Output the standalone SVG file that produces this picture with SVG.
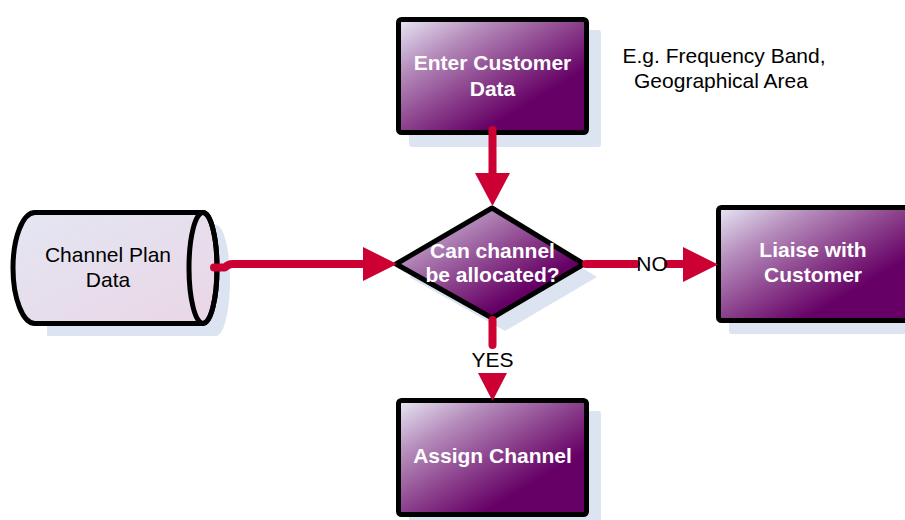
<svg xmlns="http://www.w3.org/2000/svg" width="905" height="520" viewBox="0 0 905 520">
  <defs>
    <linearGradient id="purple" x1="0" y1="0" x2="1" y2="1">
      <stop offset="0" stop-color="#e8e8f6"/>
      <stop offset="0.25" stop-color="#b58cbb"/>
      <stop offset="0.5" stop-color="#8a3f8b"/>
      <stop offset="0.72" stop-color="#660066"/>
      <stop offset="1" stop-color="#660066"/>
    </linearGradient>
    <linearGradient id="pale" x1="0" y1="0" x2="1" y2="1">
      <stop offset="0" stop-color="#e4e6f3"/>
      <stop offset="1" stop-color="#ead6e6"/>
    </linearGradient>
    <style>
      .shadow { fill: #dce4f2; }
      .box { fill: url(#purple); stroke: #000; stroke-width: 5; stroke-linejoin: round; }
      .store { fill: url(#pale); stroke: #000; stroke-width: 5; stroke-linejoin: round; }
      .wt { font-family: "Liberation Sans", Arial, sans-serif; font-size: 21px; font-weight: bold; fill: #fff; text-anchor: middle; }
      .bt { font-family: "Liberation Sans", Arial, sans-serif; font-size: 21px; fill: #000; text-anchor: middle; }
      .line { fill: none; stroke: #cc0033; stroke-width: 8; stroke-linecap: round; stroke-linejoin: round; }
      .head { fill: #cc0033; }
    </style>
  </defs>

  <g id="note">
    <text class="bt" x="724" y="63">E.g. Frequency Band,</text>
    <text class="bt" x="721" y="88">Geographical Area</text>
  </g>

  <g id="enter-customer-data">
    <rect class="shadow" x="409" y="30" width="192" height="117" rx="3"/>
    <rect class="box" x="398.5" y="19.5" width="188" height="113" rx="3"/>
    <text class="wt" x="492.5" y="70">Enter Customer</text>
    <text class="wt" x="492.5" y="96">Data</text>
  </g>

  <g id="channel-plan-data">
    <path class="shadow" d="M47 225 L216 225 A14 55.5 0 0 1 216 336 L47 336 Z"/>
    <path class="store" d="M35 212.5 L203 212.5 A14 55.5 0 0 1 203 323.5 L35 323.5 A22 55.5 0 0 1 35 212.5 Z"/>
    <ellipse cx="203" cy="268" rx="14" ry="55.5" fill="none" stroke="#000" stroke-width="5"/>
    <text class="bt" x="108" y="262">Channel Plan</text>
    <text class="bt" x="108" y="287">Data</text>
  </g>

  <g id="can-channel-be-allocated">
    <polygon class="shadow" points="505,221 597,277 505,331 409,277"/>
    <polygon class="box" points="492,208 584,264 492,318 396,264"/>
    <text class="wt" x="492.5" y="258">Can channel</text>
    <text class="wt" x="492.5" y="282">be allocated?</text>
  </g>

  <g id="liaise-with-customer">
    <rect class="shadow" x="729" y="218" width="192" height="116" rx="3"/>
    <rect class="box" x="718.5" y="207.5" width="192" height="113" rx="3"/>
    <text class="wt" x="813" y="257">Liaise with</text>
    <text class="wt" x="813" y="282">Customer</text>
  </g>

  <g id="assign-channel">
    <rect class="shadow" x="409" y="411" width="192" height="118" rx="3"/>
    <rect class="box" x="398.5" y="400.5" width="188" height="114" rx="3"/>
    <text class="wt" x="492.5" y="463">Assign Channel</text>
  </g>

  <g id="connectors">
    <path class="line" d="M492.5 130 V176"/>
    <polygon class="head" points="475,173 510,173 492.5,206"/>

    <path class="line" d="M214 267.5 H225 Q228 264 233 264 H366"/>
    <polygon class="head" points="363,247 363,281 397,264"/>

    <path class="line" d="M586 264 H636"/>
    <path class="line" d="M668 264 H686"/>
    <polygon class="head" points="683,247 683,282 718,264.5"/>
    <text class="bt" x="652" y="271">NO</text>

    <path class="line" d="M492.5 320 V345"/>
    <text class="bt" x="492.5" y="367">YES</text>
    <polygon class="head" points="478,373 507,373 492.5,401"/>
  </g>
</svg>
